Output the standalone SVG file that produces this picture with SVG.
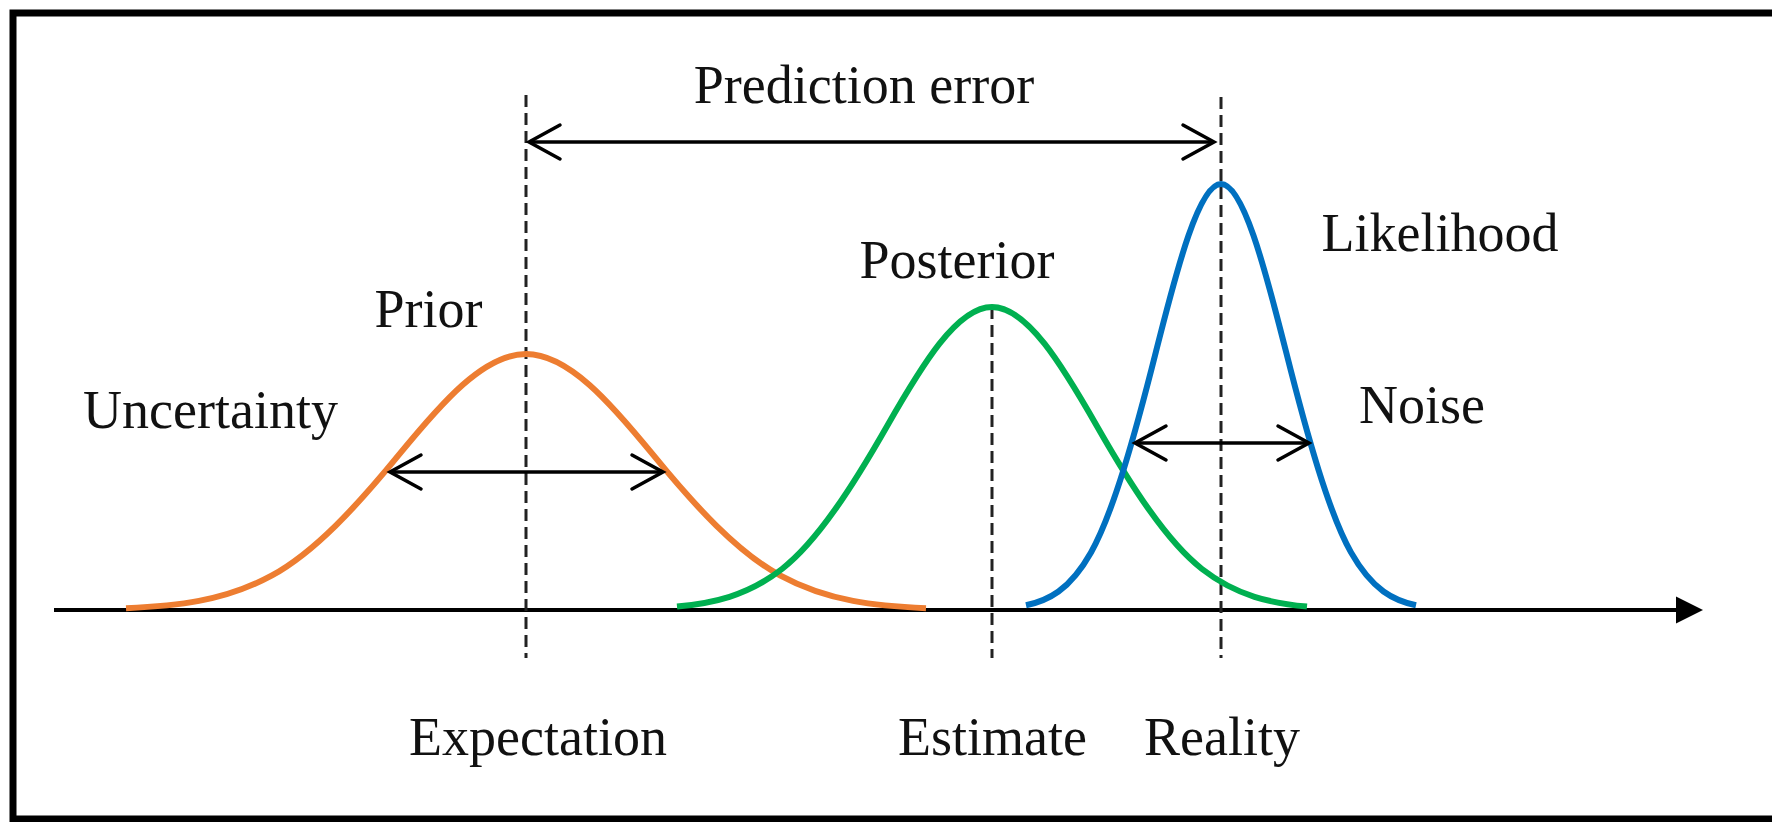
<svg xmlns="http://www.w3.org/2000/svg" width="1772" height="822" viewBox="0 0 1772 822">
  <style>
    .lbl { font-family: "Liberation Serif", "Times New Roman", serif; font-size: 54px; fill: #111; text-anchor: middle; }
    .curve { fill: none; stroke-width: 6; stroke-linecap: butt; stroke-linejoin: round; }
    .dash { stroke: #222; stroke-width: 3; stroke-dasharray: 12 6; fill: none; }
    .arr { stroke: #000; stroke-width: 3.5; fill: none; marker-start: url(#chev); marker-end: url(#chev); }
  </style>
  <defs>
    <marker id="chev" markerUnits="userSpaceOnUse" viewBox="-40 -22 44 44" markerWidth="44" markerHeight="44" refX="0" refY="0" orient="auto-start-reverse" overflow="visible">
      <path d="M-31,-17 L0,0 L-31,17" fill="none" stroke="#000" stroke-width="3.5" stroke-linejoin="miter" stroke-linecap="round"/>
    </marker>
    <marker id="tri" markerUnits="userSpaceOnUse" viewBox="-30 -16 32 32" markerWidth="32" markerHeight="32" refX="-13" refY="0" orient="auto" overflow="visible">
      <path d="M-27,-13.5 L0,0 L-27,13.5 Z" fill="#000"/>
    </marker>
  </defs>
  <rect width="1772" height="822" fill="#fff"/>

  <g id="frame">
    <path d="M1772,13 H13 V819 H1772" fill="none" stroke="#000" stroke-width="7"/>
  </g>

  <g id="axis">
    <line x1="54" y1="610" x2="1690" y2="610" stroke="#000" stroke-width="4" marker-end="url(#tri)"/>
  </g>

  <g id="guides">
    <line class="dash" x1="526" y1="95" x2="526" y2="658"/>
    <line class="dash" x1="992" y1="307" x2="992" y2="658"/>
    <line class="dash" x1="1221" y1="97" x2="1221" y2="658"/>
  </g>

  <g id="prior">
    <path class="curve" stroke="#ED7D31" d="M126,608.2 C174.6,606 223.3,601.9 272,575.4 C314.3,552.3 356.7,506.5 399,454.7 C441.3,403 483.7,354 526,354 C568.3,354 610.7,403 653,454.7 C695.3,506.5 737.7,552.3 780,575.4 C828.7,601.9 877.4,606 926,608.2"/>
    <text class="lbl" x="428.5" y="327">Prior</text>
  </g>

  <g id="posterior">
    <path class="curve" stroke="#00B050" d="M677,606.6 C712,603.3 747,596.3 782,569 C817,541.7 852,487.5 887,426.2 C922,365 957,307 992,307 C1027,307 1062,365 1097,426.2 C1132,487.5 1167,541.7 1202,569 C1237,596.3 1272,603.3 1307,606.6"/>
    <text class="lbl" x="957" y="278">Posterior</text>
  </g>

  <g id="likelihood">
    <path class="curve" stroke="#0070C0" d="M1026,605.3 C1047.7,600.5 1069.3,590.8 1091,552.4 C1112.7,513.9 1134.3,437.8 1156,351.6 C1177.7,265.5 1199.3,184 1221,184 C1242.7,184 1264.3,265.5 1286,351.6 C1307.7,437.8 1329.3,513.9 1351,552.4 C1372.7,590.8 1394.3,600.5 1416,605.3"/>
    <text class="lbl" x="1440" y="251">Likelihood</text>
  </g>

  <g id="connectors">
    <line class="arr" x1="529" y1="142" x2="1214" y2="142"/>
    <line class="arr" x1="390" y1="472" x2="663" y2="472"/>
    <line class="arr" x1="1135" y1="443" x2="1309" y2="443"/>
  </g>

  <g id="prediction-error">
    <text class="lbl" x="864" y="103">Prediction error</text>
  </g>
  <g id="uncertainty">
    <text class="lbl" x="210.5" y="428">Uncertainty</text>
  </g>
  <g id="noise">
    <text class="lbl" x="1422" y="423">Noise</text>
  </g>
  <g id="expectation">
    <text class="lbl" x="538" y="755">Expectation</text>
  </g>
  <g id="estimate">
    <text class="lbl" x="992.5" y="755">Estimate</text>
  </g>
  <g id="reality">
    <text class="lbl" x="1222" y="755">Reality</text>
  </g>
</svg>
